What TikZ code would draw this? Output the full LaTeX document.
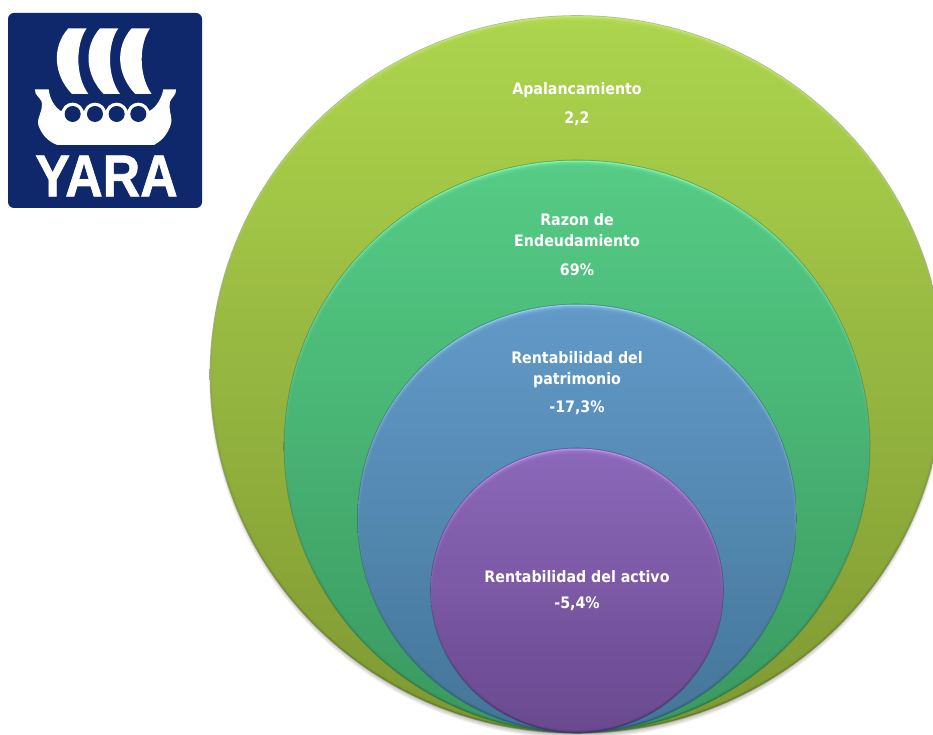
\documentclass[tikz,border=0pt]{standalone}
\usepackage{fontspec}
\setmainfont{DejaVu Sans Condensed}
\newfontfamily\logofont[BoldFeatures={FakeBold=1.2}]{Liberation Sans}
\definecolor{yaranavy}{RGB}{15,40,108}
\definecolor{aT}{RGB}{172,212,76}\definecolor{aB}{RGB}{130,156,52}\definecolor{aL}{RGB}{196,232,110}\definecolor{aD}{RGB}{92,112,30}\definecolor{aE}{RGB}{110,135,50}
\definecolor{bT}{RGB}{84,202,132}\definecolor{bB}{RGB}{60,156,98}\definecolor{bL}{RGB}{125,245,175}\definecolor{bD}{RGB}{36,110,70}\definecolor{bE}{RGB}{50,130,95}
\definecolor{cT}{RGB}{96,152,198}\definecolor{cB}{RGB}{70,120,156}\definecolor{cL}{RGB}{150,205,240}\definecolor{cD}{RGB}{44,84,112}\definecolor{cE}{RGB}{55,100,125}
\definecolor{dT}{RGB}{138,102,184}\definecolor{dB}{RGB}{108,76,146}\definecolor{dL}{RGB}{190,145,230}\definecolor{dD}{RGB}{70,44,100}\definecolor{dE}{RGB}{80,60,120}
\tikzset{
  lab/.style={text=white,font=\fontsize{15.8}{21}\selectfont\bfseries,align=center,inner sep=0pt},
  sail/.style={fill=white,draw=none}
}
% cx cy rx ry prefix
\newcommand{\bevelellipse}[5]{%
  \shade[top color=#5E,bottom color=#5D,fill opacity=.55] (#1,#2) ellipse [x radius=#3+.3,y radius=#4+.3];
  \shade[top color=#5L,bottom color=#5D] (#1,#2) ellipse [x radius=#3-.5,y radius=#4-.5];
  \foreach \k in {1,...,5}{
    \shade[top color=#5T,bottom color=#5B,fill opacity=.45]
      (#1,#2+.35*\k) ellipse [x radius=#3-.5-.7*\k,y radius=#4-.5-.9*\k];
  }
}
\begin{document}
\begin{tikzpicture}[x=1pt,y=-1pt]
\useasboundingbox (0,0) rectangle (933,735);
\begin{scope}
\clip (0,0) rectangle (933,735);
\fill[white] (0,0) rectangle (933,735);
% soft shadow
\foreach \k in {1,...,6}{
  \fill[black,fill opacity=.05] (577,378.5) ellipse [x radius=362+\k,y radius=354+\k];
}
\bevelellipse{577}{374.5}{367}{359}{a}
\bevelellipse{577}{446.5}{293}{286.5}{b}
\bevelellipse{577}{518.5}{219.5}{214.5}{c}
\bevelellipse{577}{590.5}{146.5}{142.5}{d}
\end{scope}
% logo
\fill[yaranavy,rounded corners=6] (8,13) rectangle (202,208);
\begin{scope}[x=.3333pt,y=-.3333pt]
 \foreach \dx in {0,95,190}{
  \fill[sail,shift={(\dx,0)}] (205,85) -- (260,85) .. controls (228,130) and (224,225) .. (265,282) -- (216,282) .. controls (160,225) and (155,140) .. (205,85) -- cycle;
 }
 \fill[white] (105,268) -- (146,268) .. controls (150,300) and (165,320) .. (180,332) -- (450,332) .. controls (470,320) and (485,295) .. (490,268) -- (528,268) .. controls (530,285) and (515,292) .. (510,305) .. controls (505,340) and (520,350) .. (512,375) .. controls (500,410) and (480,425) .. (462,435) -- (172,435) .. controls (145,425) and (125,405) .. (115,375) .. controls (110,350) and (130,335) .. (125,305) .. controls (120,292) and (103,285) .. (105,268) -- cycle;
 \foreach \px in {218,285,350,415}{
  \fill[white] (\px,342) circle [radius=34];
  \fill[yaranavy] (\px,342) circle [radius=24];
 }
\end{scope}
\node[inner sep=0pt,text=white,font=\logofont\fontsize{59}{59}\selectfont\bfseries,xscale=.88] (yara) at (106.5,176) {YARA};
% labels
\node[lab] (apal) at (577,90) {Apalancamiento};
\node[lab] (apalv) at (577,118.5) {2,2};
\node[lab] (razon) at (577,230) {Razon de\\Endeudamiento};
\node[lab] (razonv) at (577,270) {69\%};
\node[lab] (pat) at (577,370) {Rentabilidad del\\patrimonio};
\node[lab] (patv) at (577,408) {-17,3\%};
\node[lab] (act) at (577,577) {Rentabilidad del activo};
\node[lab] (actv) at (577,604) {-5,4\%};
\end{tikzpicture}
\end{document}
